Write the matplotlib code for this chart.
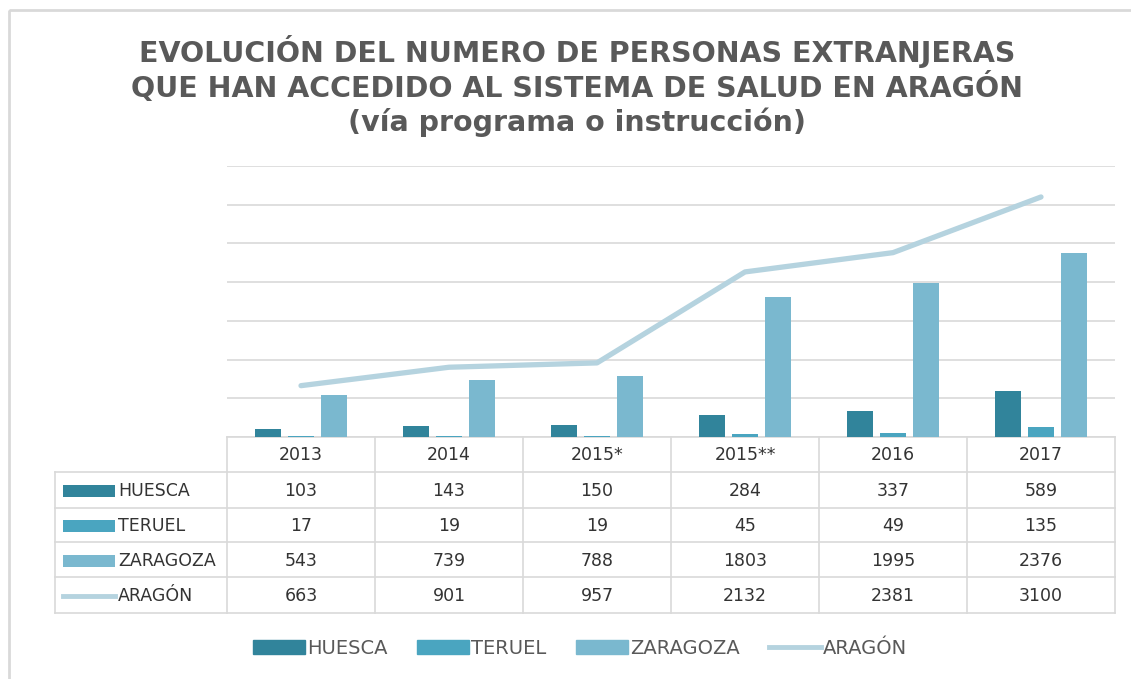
import matplotlib
matplotlib.use("Agg")
import numpy as np
from matplotlib import pyplot as plt
from matplotlib.patches import Patch, Rectangle
from matplotlib.lines import Line2D

# data
years = ["2013", "2014", "2015*", "2015**", "2016", "2017"]
huesca = [103, 143, 150, 284, 337, 589]
teruel = [17, 19, 19, 45, 49, 135]
zaragoza = [543, 739, 788, 1803, 1995, 2376]
aragon = [663, 901, 957, 2132, 2381, 3100]

series_names = ["HUESCA", "TERUEL", "ZARAGOZA", "ARAGÓN"]
colors = ["#31849B", "#4AA5C0", "#7AB8CF", "#B5D3DF"]

W, H = 1131, 679
fig = plt.figure(figsize=(W / 100, H / 100), dpi=100)

def px(x0, y0, x1, y1):
    """pixel box (left, top, right, bottom) -> figure fraction rect"""
    return [x0 / W, 1 - y1 / H, (x1 - x0) / W, (y1 - y0) / H]

# overlay in pixel coordinates for frame and table
over = fig.add_axes([0, 0, 1, 1], zorder=0)
over.set_xlim(0, W)
over.set_ylim(H, 0)
over.axis("off")
over.add_patch(Rectangle((9, 10), W + 20, H + 20, fill=False,
                         edgecolor="#D9D9D9", linewidth=2))

# main plot
plot_l, plot_t, plot_r, plot_b = 227, 166, 1115, 437
ax = fig.add_axes(px(plot_l, plot_t, plot_r, plot_b), zorder=1)
ax.patch.set_alpha(0)
x = np.arange(len(years))
bw = 0.176
off = 0.225
ax.bar(x - off, huesca, bw, color=colors[0], zorder=2)
ax.bar(x, teruel, bw, color=colors[1], zorder=2)
ax.bar(x + off, zaragoza, bw, color=colors[2], zorder=2)
ax.plot(x, aragon, color=colors[3], linewidth=3.8, solid_capstyle="round", zorder=3)
ax.set_xlim(-0.5, len(years) - 0.5)
ax.set_ylim(0, 3500)
ax.set_yticks(np.arange(0, 3501, 500))
ax.yaxis.grid(True, color="#D9D9D9", linewidth=1.2)
ax.set_axisbelow(True)
ax.tick_params(left=False, bottom=False, labelleft=False, labelbottom=False)
for s in ax.spines.values():
    s.set_visible(False)

# title
fig.text(577 / W, 1 - 86 / H,
         "EVOLUCIÓN DEL NUMERO DE PERSONAS EXTRANJERAS\n"
         "QUE HAN ACCEDIDO AL SISTEMA DE SALUD EN ARAGÓN\n"
         "(vía programa o instrucción)",
         ha="center", va="center", fontsize=20.5, fontweight="bold",
         color="#595959", linespacing=1.18, family="DejaVu Sans")

# data table below the plot
grid_c = "#D9D9D9"
tbl_left = 55
rows_y = [437, 472, 508, 542, 577, 613]
col_w = (plot_r - plot_l) / len(years)
col_edges = [plot_l + i * col_w for i in range(len(years) + 1)]

over.plot([plot_l, plot_r], [rows_y[0]] * 2, color=grid_c, lw=1.2)
for yy in rows_y[1:]:
    over.plot([tbl_left, plot_r], [yy, yy], color=grid_c, lw=1.2)
over.plot([tbl_left, tbl_left], [rows_y[1], rows_y[-1]], color=grid_c, lw=1.2)
for xe in col_edges:
    over.plot([xe, xe], [rows_y[0], rows_y[-1]], color=grid_c, lw=1.2)

txt_kw = dict(fontsize=12.5, color="#333333", va="center", family="DejaVu Sans")
for i, yr in enumerate(years):
    over.text(col_edges[i] + col_w / 2, (rows_y[0] + rows_y[1]) / 2 + 1, yr,
              ha="center", **txt_kw)

table_vals = [huesca, teruel, zaragoza, aragon]
for r, (name, vals) in enumerate(zip(series_names, table_vals)):
    yc = (rows_y[r + 1] + rows_y[r + 2]) / 2 + 1
    if r < 3:
        over.add_patch(Rectangle((63, yc - 6), 52, 12, color=colors[r], lw=0))
    else:
        over.plot([63, 115], [yc, yc], color=colors[r], lw=3.5)
    over.text(118, yc, name, ha="left", **txt_kw)
    for i, v in enumerate(vals):
        over.text(col_edges[i] + col_w / 2, yc, str(v), ha="center", **txt_kw)

# legend
handles = [Patch(color=colors[0]), Patch(color=colors[1]), Patch(color=colors[2]),
           Line2D([0], [0], color=colors[3], lw=3.5)]
leg = fig.legend(handles, series_names, loc="center", ncol=4,
                 bbox_to_anchor=(580 / W, 1 - 648 / H), frameon=False,
                 prop={"family": ["Liberation Sans Narrow", "DejaVu Sans"], "size": 14},
                 handlelength=2.7, handleheight=0.75, handletextpad=0.1,
                 columnspacing=1.5)
for t in leg.get_texts():
    t.set_color("#595959")

fig.savefig("out.png", dpi=100)
